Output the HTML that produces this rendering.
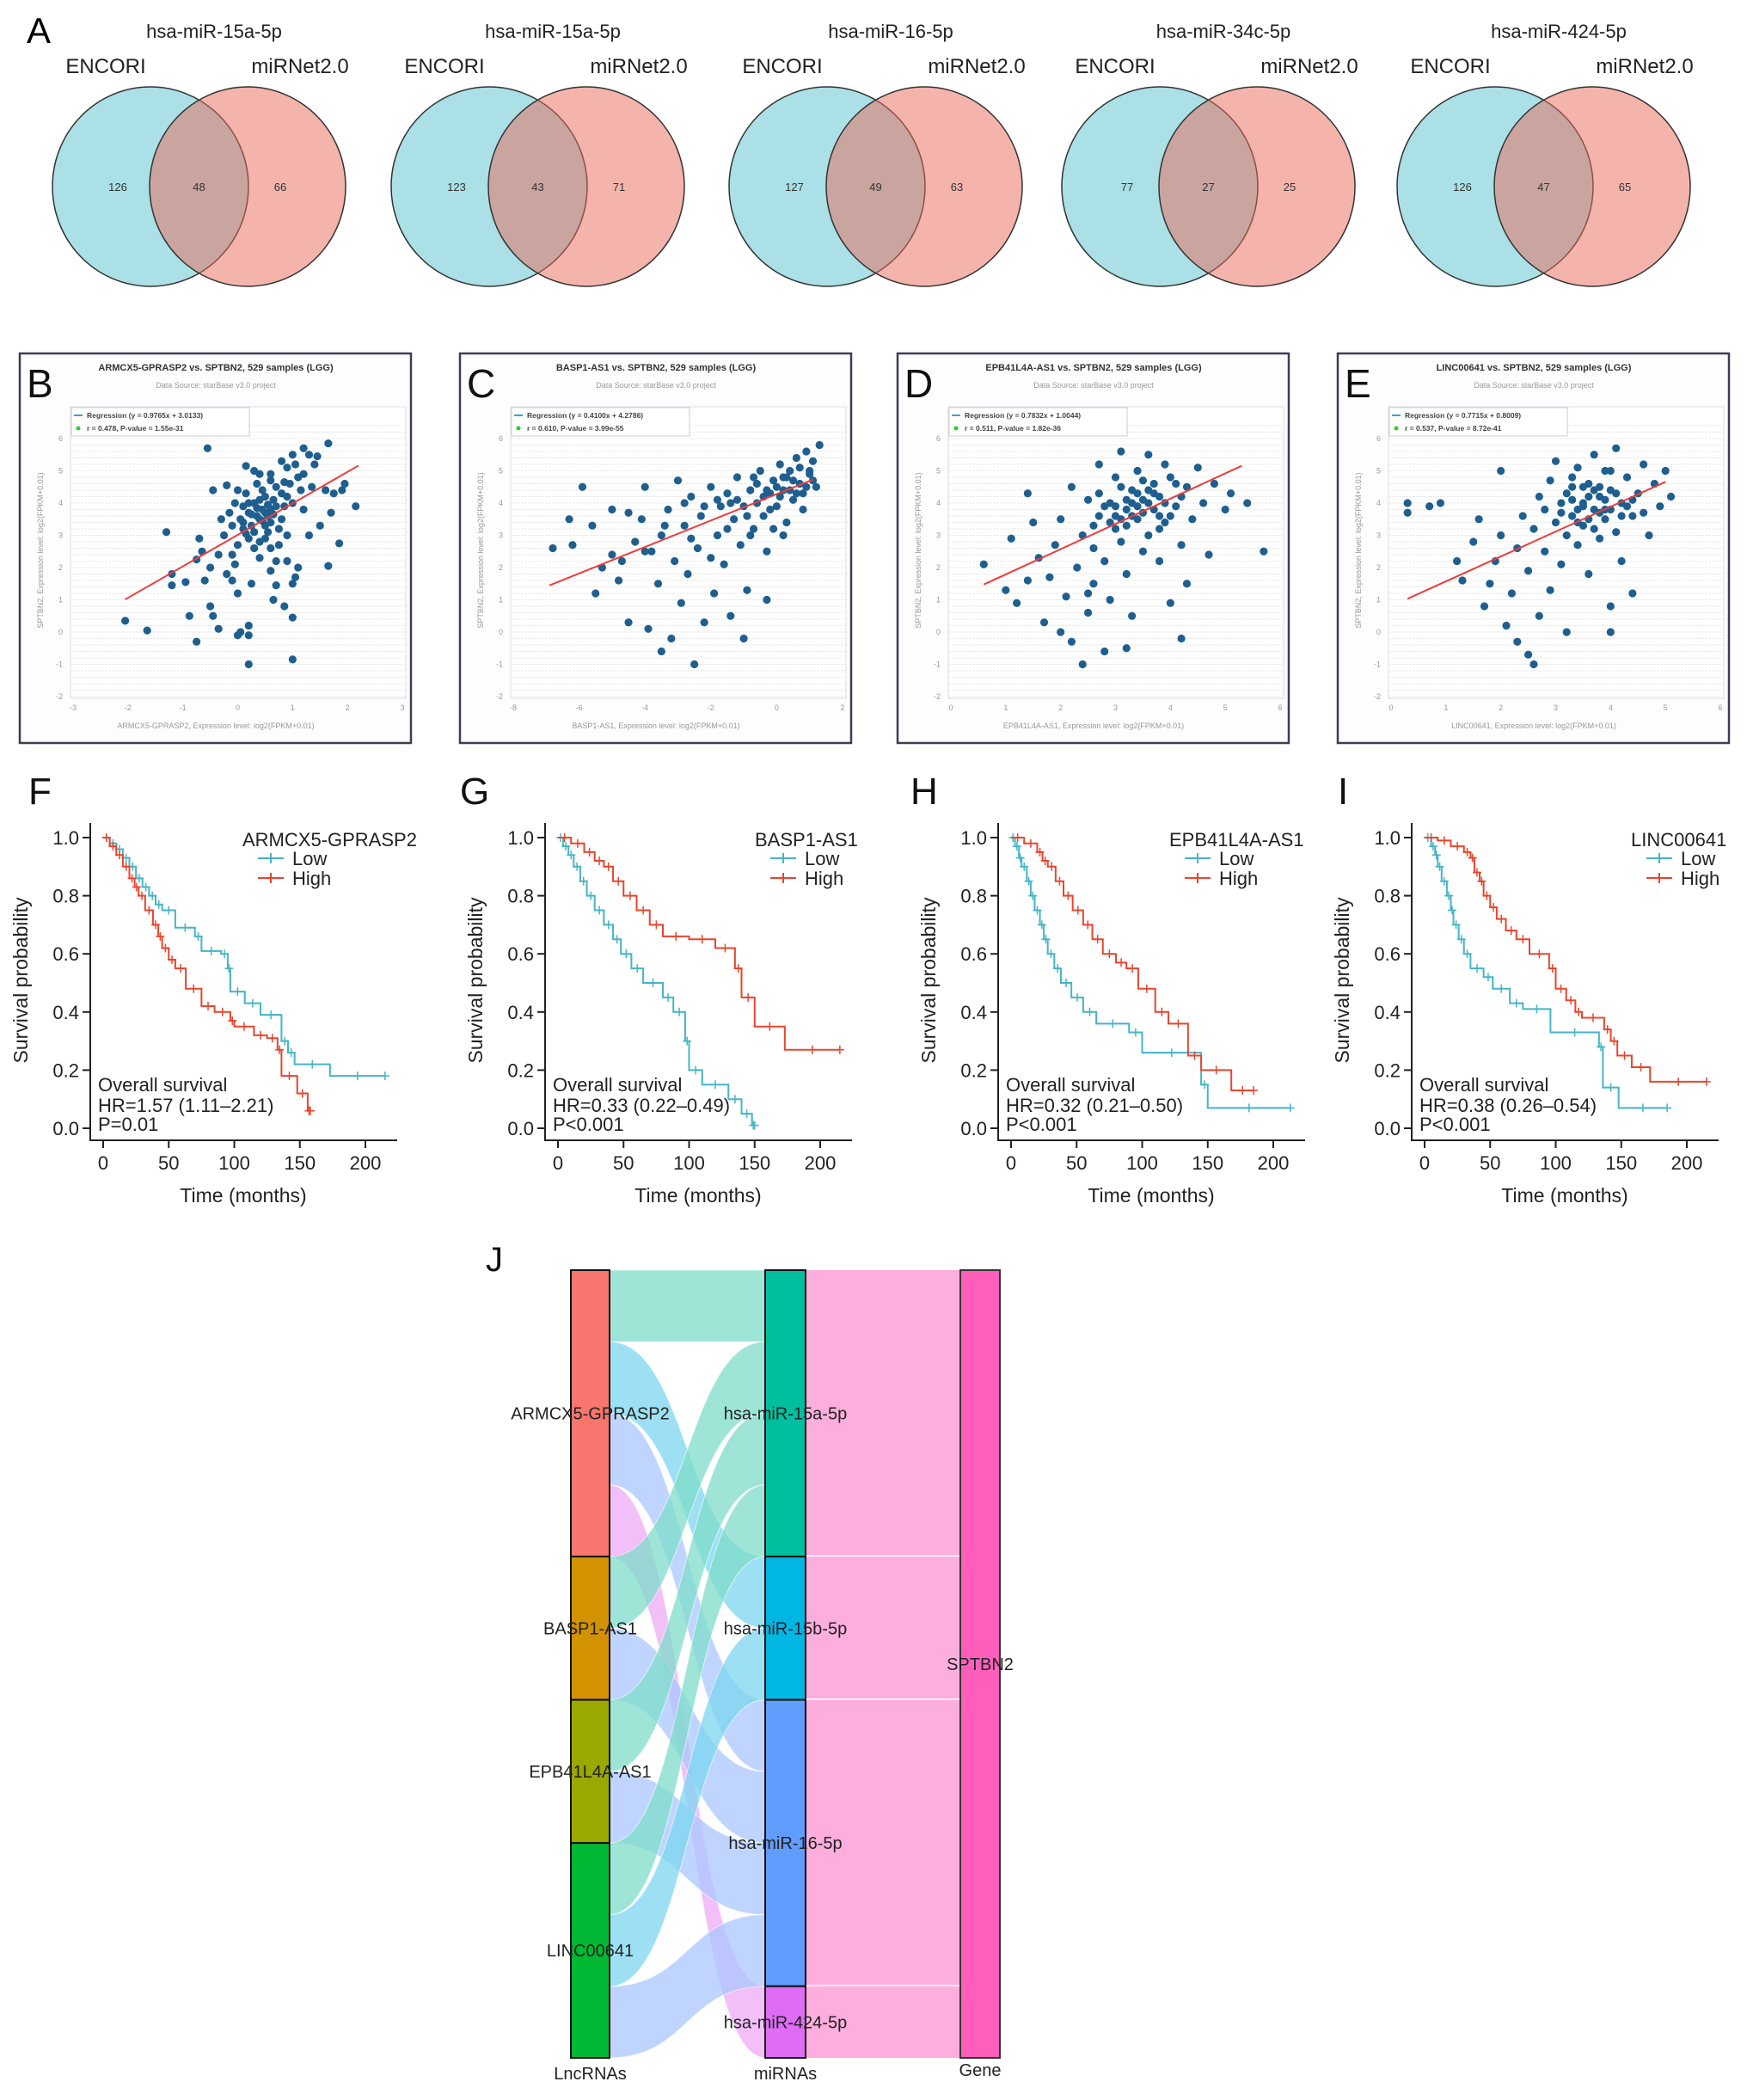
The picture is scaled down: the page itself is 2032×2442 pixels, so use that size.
<!DOCTYPE html>
<html><head><meta charset="utf-8">
<style>
html,body{margin:0;padding:0;background:#fff;}
svg{display:block;font-family:"Liberation Sans",Arial,sans-serif;}
</style></head>
<body>
<svg id="fig" width="2032" height="2442" viewBox="0 0 2032 2442" xmlns="http://www.w3.org/2000/svg">
<rect width="2032" height="2442" fill="#fff"/>
<g id="gA"></g>
<g id="gS"></g>
<g id="gK"></g>
<g id="gJ"></g>
</svg>
<script>
const NS="http://www.w3.org/2000/svg";
function mk(p,tag,attrs,txt){const e=document.createElementNS(NS,tag);for(const k in attrs)e.setAttribute(k,attrs[k]);if(txt!==undefined)e.textContent=txt;p.appendChild(e);return e;}

/* ---------- Panel A: Venn data ---------- */
const vennTitles=["hsa-miR-15a-5p","hsa-miR-15a-5p","hsa-miR-16-5p","hsa-miR-34c-5p","hsa-miR-424-5p"];
const vennLeft=[126,123,127,77,126];
const vennMid=[48,43,49,27,47];
const vennRight=[66,71,63,25,65];

/* ---------- Scatter data ---------- */
const scTitles=["ARMCX5-GPRASP2 vs. SPTBN2, 529 samples (LGG)","BASP1-AS1 vs. SPTBN2, 529 samples (LGG)","EPB41L4A-AS1 vs. SPTBN2, 529 samples (LGG)","LINC00641 vs. SPTBN2, 529 samples (LGG)"];
const scGenes=["ARMCX5-GPRASP2","BASP1-AS1","EPB41L4A-AS1","LINC00641"];
const scRegLabel=["Regression (y = 0.9765x + 3.0133)","Regression (y = 0.4100x + 4.2786)","Regression (y = 0.7832x + 1.0044)","Regression (y = 0.7715x + 0.8009)"];
const scStatLabel=["r = 0.478, P-value = 1.55e-31","r = 0.610, P-value = 3.99e-55","r = 0.511, P-value = 1.82e-36","r = 0.537, P-value = 8.72e-41"];
const scSlope=[0.9765,0.4100,0.7832,0.7715];
const scIntercept=[3.0133,4.2786,1.0044,0.8009];
const scLineFrom=[-2.05,-6.9,0.6,0.3];
const scLineTo=[2.2,1.1,5.3,5.0];
const scXTicks=[[-3,-2,-1,0,1,2,3],[-8,-6,-4,-2,0,2],[0,1,2,3,4,5,6],[0,1,2,3,4,5,6]];
const scYTicks=[-2,-1,0,1,2,3,4,5,6];
const ptsB=[[-2.05,0.35],[-1.65,0.05],[-1.3,3.1],[-1.2,1.8],[-1.2,1.45],[-0.95,1.55],[-0.88,0.5],[-0.75,-0.3],[-0.75,2.25],[-0.7,2.9],[-0.65,2.5],[-0.6,1.6],[-0.55,5.7],[-0.5,0.8],[-0.45,4.4],[-0.5,2.0],[-0.45,0.5],[-0.35,0.1],[-0.35,2.4],[-0.3,3.5],[-0.2,1.8],[-0.2,4.55],[-0.1,1.6],[-0.05,2.1],[0,-0.1],[0,1.2],[0.05,0.0],[0.1,3.2],[0.15,5.15],[0.2,0.2],[0.2,-1.0],[0.2,-0.1],[0.25,1.5],[0.3,5.0],[0.4,4.9],[0.5,2.9],[0.6,4.9],[0.6,1.9],[0.65,1.0],[0.7,1.45],[0.85,0.8],[0.9,2.2],[1.0,-0.85],[1.0,0.45],[1.0,1.5],[1.05,1.7],[1.1,2.0],[1.0,5.5],[1.2,5.7],[1.3,3.0],[1.4,5.2],[1.5,3.3],[1.6,4.4],[1.65,5.85],[1.65,2.05],[1.7,3.7],[1.75,4.3],[1.85,2.75],[1.9,4.4],[1.95,4.6],[2.15,3.9],[1.3,5.5],[1.45,5.45],[0.9,4.2],[0.8,3.5],[0.6,3.8],[0.4,3.5],[0.3,4.0],[0.2,3.7],[0.5,4.2],[0.7,4.5],[0.1,3.9],[-0.1,3.3],[0.3,2.6],[0.55,3.1],[1.1,4.8],[0.75,2.7],[0.0,2.7],[-0.25,3.0],[1.2,3.8],[0.35,3.6],[0.45,3.8],[0.55,3.6],[0.25,3.3],[0.65,4.1],[0.45,4.4],[0.15,4.3],[0.85,3.9],[0.95,4.6],[0.35,4.6],[0.75,3.2],[0.05,3.5],[0.5,3.3],[0.6,4.7],[0.9,5.1],[1.0,4.0],[0.2,2.9],[0.4,2.3],[-0.05,4.0],[0.7,2.2],[0.3,3.1],[0.5,3.7],[0.7,3.9],[0.4,4.1],[0.6,3.4],[0.8,4.3],[0.2,4.0],[0.1,3.4],[-0.15,3.7],[1.15,4.4],[0.35,3.85],[0.55,3.95],[0.45,3.45],[0.25,3.65],[0.65,3.65],[0.15,3.05],[0.85,4.65],[1.05,5.2],[0.8,5.3],[1.2,4.9],[0.4,2.8],[0.6,2.6],[-0.1,2.4],[0.9,3.0],[1.35,4.5],[0.0,4.4]];
const ptsC=[[-6.8,2.6],[-6.3,3.5],[-6.2,2.7],[-5.9,4.5],[-5.6,3.3],[-5.5,1.2],[-5.3,2.0],[-5.0,3.8],[-4.8,1.6],[-4.7,2.2],[-4.5,3.7],[-4.5,0.3],[-4.3,2.8],[-4.1,3.5],[-4.0,4.5],[-3.9,0.1],[-3.8,2.5],[-3.6,1.5],[-3.5,3.0],[-3.3,3.8],[-3.2,-0.2],[-3.1,2.2],[-3.0,4.7],[-2.9,0.9],[-2.8,3.3],[-2.7,1.8],[-2.6,4.2],[-2.5,-1.0],[-2.4,2.6],[-2.3,3.6],[-2.2,0.3],[-2.0,4.5],[-1.9,1.2],[-1.8,3.0],[-1.7,3.9],[-1.6,2.1],[-1.5,4.3],[-1.4,0.5],[-1.3,3.5],[-1.2,4.8],[-1.1,2.7],[-1.0,3.9],[-0.9,1.3],[-0.8,4.4],[-0.7,3.2],[-0.6,4.0],[-0.5,5.0],[-0.4,3.6],[-0.3,2.5],[-0.2,4.3],[-0.1,4.7],[0,3.9],[0.1,5.2],[0.2,4.4],[0.3,3.4],[0.4,5.0],[0.5,4.1],[0.6,5.4],[0.7,4.6],[0.8,3.8],[0.9,5.6],[1.0,4.9],[1.1,5.3],[1.3,5.8],[1.2,4.5],[-0.3,1.0],[-1.0,-0.2],[-3.5,-0.6],[-2.0,2.3],[0.2,3.0],[-0.6,4.6],[0.0,4.5],[0.5,4.7],[-0.2,3.8],[0.7,5.1],[0.3,4.8],[-1.5,3.2],[-2.6,2.9],[-4.0,2.5],[-5.0,2.4],[-1.2,4.1],[-0.9,3.6],[-0.4,4.2],[-2.2,3.9],[-1.8,4.1],[0.1,4.2],[0.4,4.4],[-0.7,4.8],[1.0,5.0],[0.8,4.3],[-0.3,4.4],[0.2,4.8],[0.6,4.3],[-1.4,4.0],[-2.8,4.0],[-3.4,3.3],[-0.8,3.0],[0.9,4.5],[1.1,4.7],[-0.1,3.2]];
const ptsD=[[0.6,2.1],[1.0,1.3],[1.1,2.9],[1.2,0.9],[1.4,1.6],[1.5,3.4],[1.6,2.3],[1.7,0.3],[1.8,1.7],[1.9,2.7],[2.0,0.0],[2.0,3.5],[2.1,1.1],[2.2,-0.3],[2.2,4.5],[2.3,2.0],[2.4,-1.0],[2.4,3.0],[2.5,0.6],[2.5,4.1],[2.6,1.5],[2.6,2.6],[2.7,5.2],[2.7,3.6],[2.8,-0.6],[2.8,2.2],[2.9,4.0],[2.9,1.0],[3.0,3.2],[3.0,4.8],[3.1,2.8],[3.1,5.6],[3.2,3.8],[3.2,1.8],[3.3,4.4],[3.3,0.5],[3.4,3.5],[3.4,5.0],[3.5,4.1],[3.5,2.5],[3.6,3.0],[3.6,5.5],[3.7,4.6],[3.7,3.8],[3.8,2.2],[3.8,4.2],[3.9,5.2],[3.9,3.4],[4.0,4.8],[4.0,0.9],[4.1,3.9],[4.2,2.7],[4.3,4.5],[4.3,1.5],[4.4,3.5],[4.5,5.1],[4.6,4.0],[4.7,2.4],[4.8,4.6],[5.0,3.8],[5.1,4.3],[5.4,4.0],[5.7,2.5],[3.0,3.9],[3.3,3.6],[3.6,4.0],[2.9,3.4],[3.4,4.3],[3.8,3.2],[3.1,4.5],[2.5,1.2],[3.2,-0.5],[4.2,-0.2],[1.4,4.3],[3.2,3.3],[3.5,3.7],[3.9,4.0],[4.2,4.2],[3.0,3.6],[3.7,4.3],[2.8,3.9],[4.0,3.6],[3.3,4.0],[3.6,4.4],[3.1,3.5],[3.4,3.9],[3.8,3.6],[2.7,4.3],[4.1,4.6],[3.5,4.7],[3.2,4.1],[2.6,3.3]];
const ptsE=[[0.3,4.0],[0.3,3.7],[0.7,3.9],[0.9,4.0],[1.2,2.2],[1.3,1.6],[1.5,2.8],[1.6,3.5],[1.7,0.8],[1.8,1.5],[1.9,2.2],[2.0,5.0],[2.0,3.0],[2.1,0.2],[2.2,1.2],[2.3,-0.3],[2.3,2.6],[2.4,3.6],[2.5,-0.7],[2.5,1.9],[2.6,3.2],[2.6,-1.0],[2.7,4.2],[2.7,0.5],[2.8,2.5],[2.8,3.8],[2.9,4.7],[2.9,1.3],[3.0,3.4],[3.0,5.3],[3.1,2.1],[3.1,4.0],[3.2,3.0],[3.2,0.0],[3.3,4.5],[3.3,3.6],[3.4,5.1],[3.4,2.7],[3.5,4.0],[3.5,3.3],[3.6,4.6],[3.6,1.8],[3.7,3.8],[3.7,5.5],[3.8,4.2],[3.8,2.9],[3.9,3.5],[3.9,5.0],[4.0,4.4],[4.0,0.8],[4.1,3.1],[4.1,5.7],[4.2,4.0],[4.2,2.2],[4.3,4.8],[4.4,3.6],[4.4,1.2],[4.5,4.3],[4.6,5.2],[4.7,3.0],[4.8,4.6],[4.9,3.9],[5.0,5.0],[5.1,4.2],[4.0,0.0],[3.5,3.9],[3.8,3.7],[3.3,4.1],[3.6,3.5],[4.1,4.3],[3.4,3.8],[3.9,4.1],[3.7,4.4],[4.3,3.9],[3.2,4.3],[3.6,4.2],[4.0,3.8],[3.5,4.5],[3.8,4.5],[4.2,3.6],[3.4,3.4],[3.9,3.8],[3.1,3.7],[4.4,4.1],[3.7,3.2],[4.0,5.0],[3.3,4.8],[4.6,3.7]];
const scPoints=[ptsB,ptsC,ptsD,ptsE];

/* ---------- KM data ---------- */
const kmGenes=["ARMCX5-GPRASP2","BASP1-AS1","EPB41L4A-AS1","LINC00641"];
const kmHR=["HR=1.57 (1.11\u20132.21)","HR=0.33 (0.22\u20130.49)","HR=0.32 (0.21\u20130.50)","HR=0.38 (0.26\u20130.54)"];
const kmP=["P=0.01","P<0.001","P<0.001","P<0.001"];
const kmXTicks=[0,50,100,150,200];
const kmYTicks=[0,0.2,0.4,0.6,0.8,1.0];
const lowT=[[5,10,15,20,25,30,35,40,45,55,70,75,90,95,97,108,120,136,141,146,173],[4,8,12,17,22,28,35,42,48,56,65,80,88,97,100,110,130,140,148],[3,6,8,12,15,18,22,25,28,33,38,46,55,65,90,100,145,150],[5,8,10,13,17,20,22,26,30,35,45,52,65,75,96,133,136,148]];
const lowS=[[0.98,0.96,0.93,0.9,0.86,0.83,0.8,0.77,0.75,0.69,0.66,0.61,0.6,0.55,0.47,0.43,0.39,0.3,0.26,0.22,0.18],[0.97,0.94,0.9,0.85,0.8,0.75,0.7,0.65,0.6,0.55,0.5,0.45,0.4,0.3,0.2,0.15,0.1,0.05,0.01],[0.97,0.93,0.9,0.85,0.8,0.75,0.7,0.65,0.6,0.55,0.5,0.45,0.4,0.36,0.33,0.26,0.15,0.07],[0.97,0.94,0.9,0.85,0.8,0.75,0.7,0.65,0.6,0.55,0.52,0.48,0.43,0.41,0.33,0.28,0.14,0.07]];
const lowEnd=[215,150,213,185];
const highT=[[5,10,15,20,24,27,32,38,42,45,50,55,63,75,85,97,100,115,125,133,136,148,156],[10,20,28,35,42,50,60,70,80,100,120,135,140,150,173],[10,20,24,28,34,40,47,55,62,70,80,88,97,110,120,135,145,168],[10,20,30,35,38,42,45,50,55,62,70,80,95,100,108,115,120,137,142,147,158,172]];
const highS=[[0.97,0.94,0.9,0.86,0.83,0.8,0.75,0.7,0.66,0.62,0.58,0.55,0.48,0.42,0.4,0.37,0.35,0.32,0.31,0.27,0.18,0.12,0.06],[0.98,0.95,0.92,0.9,0.85,0.8,0.75,0.7,0.66,0.65,0.62,0.55,0.45,0.35,0.27],[0.98,0.95,0.92,0.9,0.85,0.8,0.75,0.7,0.65,0.6,0.57,0.55,0.48,0.4,0.36,0.25,0.2,0.13],[0.99,0.97,0.95,0.93,0.88,0.85,0.8,0.76,0.72,0.68,0.65,0.6,0.55,0.48,0.44,0.4,0.38,0.34,0.3,0.25,0.21,0.16]];
const highEnd=[158,215,185,215];

/* ---------- Sankey data ---------- */
const lncNames=["ARMCX5-GPRASP2","BASP1-AS1","EPB41L4A-AS1","LINC00641"];
const miNames=["hsa-miR-15a-5p","hsa-miR-15b-5p","hsa-miR-16-5p","hsa-miR-424-5p"];
const linkLnc=[0,0,0,0,1,1,2,2,3,3,3];
const linkMi=[0,1,2,3,0,2,0,2,0,1,2];
const linkVal=[1,1,1,1,1,1,1,1,1,1,1];
const geneName="SPTBN2";

/* ===== Draw A ===== */
(function(){
 const g=document.getElementById('gA');
 const t=mk(g,'text',{x:31,y:50,'font-size':42},"A");
 
 const lcx=[175,569,962,1349,1739];
 vennTitles.forEach((tt,i)=>{
  const vg=mk(g,'g',{});
  
  const cx=lcx[i],cy=217,r=114,d=113;
  let e=mk(vg,'text',{x:cx+74,y:44,'font-size':22,'text-anchor':'middle',fill:'#222'},tt);
  
  e=mk(vg,'text',{x:cx-52,y:85,'font-size':24,'text-anchor':'middle',fill:'#222'},"ENCORI");
  
  e=mk(vg,'text',{x:cx+174,y:85,'font-size':24,'text-anchor':'middle',fill:'#222'},"miRNet2.0");
  
  e=mk(vg,'ellipse',{cx:cx,cy:cy,rx:r,ry:r+2,fill:'#56c1cd','fill-opacity':0.5,stroke:'#333','stroke-width':1.5});
  
  e=mk(vg,'ellipse',{cx:cx+d,cy:cy,rx:r,ry:r+2,fill:'#ea6a5a','fill-opacity':0.5,stroke:'#333','stroke-width':1.5});
  
  [[cx-38,vennLeft[i]],[cx+d/2,vennMid[i]],[cx+d+38,vennRight[i]]].forEach((p,k)=>{
   const n=mk(vg,'text',{x:p[0],y:cy+5,'font-size':13,'text-anchor':'middle',fill:'#333'},String(p[1]));
   
  });
 });
})();

/* ===== Draw scatter ===== */
(function(){
 const g=document.getElementById('gS');
 const bxs=[23,535,1044,1556],letters=["B","C","D","E"];
 scPoints.forEach((pts,i)=>{
  const bx=bxs[i];const pg=mk(g,'g',{});
  
  let e=mk(pg,'rect',{x:bx,y:411,width:455,height:453,fill:'#fdfdff',stroke:'#3a3f55','stroke-width':2.5});
  
  const xt=scXTicks[i],xmin=xt[0],xmax=xt[xt.length-1];
  const X=v=>bx+62+(v-xmin)/(xmax-xmin)*383;
  const Y=v=>810-(v+2)/8*300;
  const pl=bx+59,pr=bx+449;
  e=mk(pg,'rect',{x:pl,y:473,width:pr-pl,height:339,fill:'#fff',stroke:'#ddd'});
  
  for(let v=-2.2;v<=6.6;v+=0.2){const y=Y(v);if(y<474||y>811)continue;mk(pg,'line',{x1:pl,x2:pr,y1:y,y2:y,stroke:'#e2e2e2','stroke-width':0.8,'stroke-dasharray':'3,1'});}
  e=mk(pg,'text',{x:bx+8,y:462,'font-size':46,fill:'#111'},letters[i]);
  
  e=mk(pg,'text',{x:bx+228,y:431,'font-size':11,'font-weight':'bold','text-anchor':'middle',fill:'#333'},scTitles[i]);
  
  e=mk(pg,'text',{x:bx+228,y:451,'font-size':9,'text-anchor':'middle',fill:'#999'},"Data Source: starBase v3.0 project");
  
  xt.forEach(v=>{const t=mk(pg,'text',{x:X(v),y:826,'font-size':9,'text-anchor':'middle',fill:'#999'},String(v));});
  scYTicks.forEach(v=>{const t=mk(pg,'text',{x:bx+50,y:Y(v)+3,'font-size':9,'text-anchor':'end',fill:'#999'},String(v));});
  e=mk(pg,'text',{x:bx+228,y:847,'font-size':9,'text-anchor':'middle',fill:'#999'},scGenes[i]+", Expression level: log2(FPKM+0.01)");
  
  e=mk(pg,'text',{x:0,y:0,'font-size':9,'text-anchor':'middle',fill:'#999',transform:`translate(${bx+27},640) rotate(-90)`},"SPTBN2, Expression level: log2(FPKM+0.01)");
  
  pts.forEach(p=>{const c=mk(pg,'circle',{cx:X(p[0]),cy:Y(p[1]),r:4.6,fill:'#1f5f8f'});});
  const a=scLineFrom[i],b=scLineTo[i];
  e=mk(pg,'line',{x1:X(a),y1:Y(scSlope[i]*a+scIntercept[i]),x2:X(b),y2:Y(scSlope[i]*b+scIntercept[i]),stroke:'#ee3b3b','stroke-width':2});
  
  const lg=mk(pg,'g',{});
  mk(lg,'rect',{x:bx+60,y:474,width:207,height:33,fill:'#fff',stroke:'#ccc'});
  mk(lg,'line',{x1:bx+63,x2:bx+73,y1:483,y2:483,stroke:'#3aa0d8','stroke-width':2});
  mk(lg,'text',{x:bx+78,y:486,'font-size':8.5,'font-weight':'bold',fill:'#444'},scRegLabel[i]);
  mk(lg,'circle',{cx:bx+68,cy:498,r:2.5,fill:'#3c3'});
  mk(lg,'text',{x:bx+78,y:501,'font-size':8.5,'font-weight':'bold',fill:'#444'},scStatLabel[i]);
 });
})();

/* ===== Draw KM ===== */
(function(){
 const g=document.getElementById('gK');
 const offs=[0,529,1056,1537],letters=["F","G","H","I"],legL=[282,349,304,360];
 const lx=[33,535,1059,1556];
 kmGenes.forEach((gn,i)=>{
  const o=offs[i];const pg=mk(g,'g',{});
  
  const X=t=>o+120+t*1.525, Y=s=>1312-s*338;
  let e=mk(pg,'text',{x:lx[i],y:935,'font-size':44,fill:'#111'},letters[i]);
  
  mk(pg,'line',{x1:o+105,x2:o+105,y1:957,y2:1327,stroke:'#222','stroke-width':2});
  mk(pg,'line',{x1:o+104,x2:o+462,y1:1326,y2:1326,stroke:'#222','stroke-width':2});
  kmYTicks.forEach(v=>{mk(pg,'line',{x1:o+96,x2:o+105,y1:Y(v),y2:Y(v),stroke:'#222','stroke-width':2});
   const t=mk(pg,'text',{x:o+92,y:Y(v)+8,'font-size':22,'text-anchor':'end',fill:'#222'},v.toFixed(1));});
  kmXTicks.forEach(v=>{mk(pg,'line',{x1:X(v),x2:X(v),y1:1326,y2:1335,stroke:'#222','stroke-width':2});
   const t=mk(pg,'text',{x:X(v),y:1360,'font-size':22,'text-anchor':'middle',fill:'#222'},String(v));});
  e=mk(pg,'text',{x:o+283,y:1398,'font-size':23,'text-anchor':'middle',fill:'#222'},"Time (months)");
  
  e=mk(pg,'text',{x:0,y:0,'font-size':23,'text-anchor':'middle',fill:'#222',transform:`translate(${o+32},1140) rotate(-90)`},"Survival probability");
  
  function curve(T,S,end,col,name){
   let d=`M${X(0)},${Y(1)}`;
   T.forEach((t,k)=>{d+=` H${X(t)} V${Y(S[k])}`;});
   d+=` H${X(end)}`;
   const p=mk(pg,'path',{d:d,fill:'none',stroke:col,'stroke-width':2});
   
   const ts=[0].concat(T);const ss=[1].concat(S);
   for(let k=0;k<ts.length;k++){const t2=k+1<ts.length?ts[k+1]:end;const tm=(ts[k]+t2)/2;
     const cx=X(tm),cy=Y(ss[k]);mk(pg,'path',{d:`M${cx-5},${cy}H${cx+5}M${cx},${cy-5}V${cy+5}`,stroke:col,'stroke-width':1.5});}
   const ex=X(end),ey=Y(S[S.length-1]);mk(pg,'path',{d:`M${ex-5},${ey}H${ex+5}M${ex},${ey-5}V${ey+5}`,stroke:col,'stroke-width':1.5});
  }
  curve(lowT[i],lowS[i],lowEnd[i],'#45b5c5','curve-low');
  curve(highT[i],highS[i],highEnd[i],'#e8452e','curve-high');
  const L=o+legL[i];const lg=mk(pg,'g',{});
  mk(lg,'text',{x:L,y:984,'font-size':22,fill:'#222'},gn);
  mk(lg,'path',{d:`M${L+18},${998}H${L+48}M${L+33},${992}V${1004}`,stroke:'#45b5c5','stroke-width':2});
  mk(lg,'text',{x:L+58,y:1006,'font-size':22,fill:'#222'},"Low");
  mk(lg,'path',{d:`M${L+18},${1021}H${L+48}M${L+33},${1015}V${1027}`,stroke:'#e8452e','stroke-width':2});
  mk(lg,'text',{x:L+58,y:1029,'font-size':22,fill:'#222'},"High");
  const an=mk(pg,'g',{});
  mk(an,'text',{x:o+114,y:1269,'font-size':22,fill:'#222'},"Overall survival");
  mk(an,'text',{x:o+114,y:1293,'font-size':22,fill:'#222'},kmHR[i]);
  mk(an,'text',{x:o+114,y:1315,'font-size':22,fill:'#222'},kmP[i]);
 });
})();

/* ===== Draw Sankey ===== */
(function(){
 const g=document.getElementById('gJ');
 let e=mk(g,'text',{x:565,y:1478,'font-size':40,fill:'#111'},"J");
 
 const top=1477,bot=2393;const tot=linkVal.reduce((a,b)=>a+b,0);const u=(bot-top)/tot;
 const lncCol=["#f8766d","#d39200","#9aa800","#00b833"];
 const miCol=["#00bf9f","#00b6e3","#619cff","#df6cf5"];
 const miLink=["#7ddcc9","#7cd6ef","#aac7ff","#edaaf7"];
 const L0=664,L1=709,M0=890,M1=937,G0=1117,G1=1163;
 const lncTot=lncNames.map((_,k)=>linkVal.reduce((a,v,j)=>a+(linkLnc[j]===k?v:0),0));
 const miTot=miNames.map((_,k)=>linkVal.reduce((a,v,j)=>a+(linkMi[j]===k?v:0),0));
 const lncY=[],miY=[];let acc=top;lncTot.forEach(v=>{lncY.push(acc);acc+=v*u;});acc=top;miTot.forEach(v=>{miY.push(acc);acc+=v*u;});
 miNames.forEach((m,k)=>{const r=mk(g,'rect',{x:M1,y:miY[k],width:G0-M1,height:miTot[k]*u-(k<3?1.5:0),fill:'#fdaedc'});});
 const lOff=lncY.slice(),mOff=miY.slice();
 const order=linkVal.map((_,j)=>j);
 const srcY=[],dstY=[];
 lncNames.forEach((_,k)=>{order.filter(j=>linkLnc[j]===k).sort((a,b)=>linkMi[a]-linkMi[b]).forEach(j=>{srcY[j]=lOff[k];lOff[k]+=linkVal[j]*u;});});
 miNames.forEach((_,k)=>{order.filter(j=>linkMi[j]===k).sort((a,b)=>linkLnc[a]-linkLnc[b]).forEach(j=>{dstY[j]=mOff[k];mOff[k]+=linkVal[j]*u;});});
 const cm=(L1+M0)/2;
 order.forEach(j=>{const h=linkVal[j]*u,y0=srcY[j],y1=dstY[j];
  const d=`M${L1},${y0} C${cm},${y0} ${cm},${y1} ${M0},${y1} L${M0},${y1+h} C${cm},${y1+h} ${cm},${y0+h} ${L1},${y0+h} Z`;
  const p=mk(g,'path',{d:d,fill:miLink[linkMi[j]],'fill-opacity':0.75,stroke:'#fff','stroke-width':1,'stroke-opacity':0.6});
  });
 lncNames.forEach((n,k)=>{const r=mk(g,'rect',{x:L0,y:lncY[k],width:L1-L0,height:lncTot[k]*u,fill:lncCol[k],stroke:'#111','stroke-width':2});
  });
 miNames.forEach((n,k)=>{const r=mk(g,'rect',{x:M0,y:miY[k],width:M1-M0,height:miTot[k]*u,fill:miCol[k],stroke:'#111','stroke-width':2});
  });
 e=mk(g,'rect',{x:G0,y:top,width:G1-G0,height:bot-top,fill:'#ff5fba',stroke:'#333','stroke-width':2});
 
 lncNames.forEach((n,k)=>{const t=mk(g,'text',{x:(L0+L1)/2,y:lncY[k]+lncTot[k]*u/2+7,'font-size':20,'text-anchor':'middle',fill:'#222'},n);});
 miNames.forEach((n,k)=>{const t=mk(g,'text',{x:(M0+M1)/2,y:miY[k]+miTot[k]*u/2+7,'font-size':20,'text-anchor':'middle',fill:'#222'},n);});
 e=mk(g,'text',{x:(G0+G1)/2,y:(top+bot)/2+7,'font-size':20,'text-anchor':'middle',fill:'#222'},geneName);
 
 [["LncRNAs",(L0+L1)/2,2418],["miRNAs",(M0+M1)/2,2418],["Gene",(G0+G1)/2,2414]].forEach(a=>{const t=mk(g,'text',{x:a[1],y:a[2],'font-size':20,'text-anchor':'middle',fill:'#222'},a[0]);});
})();
</script>
</body></html>
